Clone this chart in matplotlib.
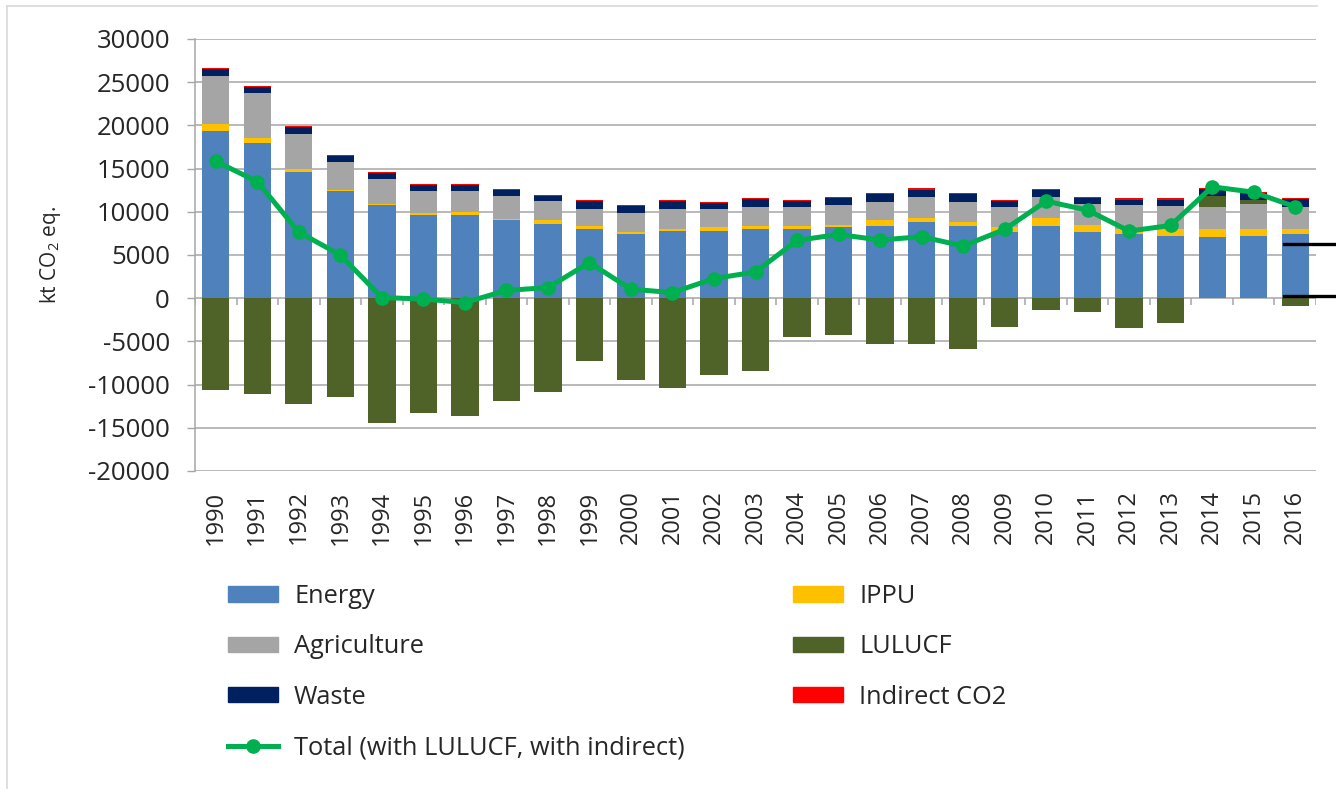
import numpy as np
import matplotlib
matplotlib.use("Agg")
import matplotlib.pyplot as plt
from matplotlib.lines import Line2D
from matplotlib.patches import Patch

years = [str(y) for y in range(1990, 2017)]
energy = [19400, 17950, 14580, 12420, 10800, 9620, 9620, 9000, 8620, 8040, 7380, 7810, 7810, 8040,
          8000, 8190, 8380, 8810, 8350, 7620, 8380, 7620, 7380, 7230, 7040, 7230, 7420]
ippu = [800, 550, 380, 150, 150, 230, 380, 150, 380, 310, 240, 190, 380, 310,
        310, 230, 660, 500, 460, 610, 930, 800, 580, 810, 960, 770, 580]
agriculture = [5500, 5200, 4000, 3200, 2850, 2570, 2420, 2650, 2200, 2030, 2190, 2380, 2190, 2230,
               2270, 2390, 2110, 2380, 2340, 2350, 2380, 2540, 2850, 2610, 2580, 2850, 2580]
lulucf = [-10620, -11080, -12230, -11460, -14460, -13270, -13650, -11850, -10880, -7270, -9460, -10420, -8880, -8420,
          -4540, -4310, -5310, -5310, -5920, -3310, -1310, -1540, -3500, -2880, 1230, 570, -920]
waste = [800, 700, 850, 650, 650, 700, 700, 700, 650, 890, 840, 880, 660, 880,
         650, 810, 890, 890, 890, 690, 810, 620, 610, 770, 880, 730, 880]
indirect = [200, 150, 150, 120, 120, 120, 120, 120, 110, 110, 120, 120, 150, 110,
            150, 110, 150, 150, 150, 110, 150, 150, 150, 150, 100, 100, 160]
total = [15840, 13500, 7650, 5000, 80, -100, -500, 900, 1230, 4120, 1040, 650, 2270, 3040,
         6690, 7380, 6730, 7120, 6040, 7960, 11230, 10190, 7770, 8420, 12890, 12270, 10580]

yticks = list(range(-20000, 30001, 5000))

C_ENERGY = "#4F81BD"
C_IPPU = "#FFC000"
C_AGRI = "#A5A5A5"
C_LULUCF = "#4F6228"
C_WASTE = "#002060"
C_IND = "#FF0000"
C_TOTAL = "#00B050"
GRID = "#A6A6A6"
TXT = "#262626"

plt.rcParams['font.family'] = ['Open Sans', 'DejaVu Sans']
plt.rcParams['mathtext.default'] = 'regular'

fig = plt.figure(figsize=(13.36, 7.89), dpi=100)
ax = fig.add_axes([195/1336, 1-471/789, (1316-195)/1336, (471-39)/789])

x = np.arange(len(years))
w = 0.66
e = np.array(energy, float)
ip = np.array(ippu, float)
ag = np.array(agriculture, float)
lu = np.array(lulucf, float)
wa = np.array(waste, float)
ind = np.array(indirect, float)
lu_pos = np.clip(lu, 0, None)
lu_neg = np.clip(lu, None, 0)

b = np.zeros(len(x))
ax.bar(x, e, w, bottom=b, color=C_ENERGY, zorder=2); b = b + e
ax.bar(x, ip, w, bottom=b, color=C_IPPU, zorder=2); b = b + ip
ax.bar(x, ag, w, bottom=b, color=C_AGRI, zorder=2); b = b + ag
ax.bar(x, lu_pos, w, bottom=b, color=C_LULUCF, zorder=2); b = b + lu_pos
ax.bar(x, wa, w, bottom=b, color=C_WASTE, zorder=2); b = b + wa
ax.bar(x, ind, w, bottom=b, color=C_IND, zorder=2)
ax.bar(x, lu_neg, w, bottom=0, color=C_LULUCF, zorder=2)

ax.plot(x, total, color=C_TOTAL, lw=3.6, marker='o', ms=9.5, zorder=4)

ax.set_xlim(-0.5, len(x) - 0.5)
ax.set_ylim(-20000, 30000)
ax.set_yticks(yticks)
ax.set_yticklabels([str(v) for v in yticks], fontsize=18.5, color=TXT)
ax.set_xticks(x)
ax.set_xticklabels(years, rotation=90, fontsize=17, color=TXT)
ax.tick_params(axis='x', length=0, pad=14)
ax.tick_params(axis='y', length=6, width=1.0, color=GRID, pad=12, direction='out')

ax.yaxis.grid(True, color=GRID, lw=1.1, zorder=0)
ax.set_axisbelow(True)
for s in ['top', 'right']:
    ax.spines[s].set_visible(False)
ax.spines['bottom'].set_visible(False)
ax.spines['left'].set_color(GRID)
ax.spines['left'].set_linewidth(1.1)

# category boundary tick marks on the zero line
ax.vlines(np.arange(len(x) + 1) - 0.5, 0, -750, color=GRID, lw=1.1, zorder=3)

ax.set_ylabel("kt CO$_2$ eq.", fontsize=15, color=TXT)
ax.yaxis.set_label_coords(-0.118, 0.5)

# Legends
fs = 18.3
h1 = [Patch(color=C_ENERGY), Patch(color=C_AGRI), Patch(color=C_WASTE),
      Line2D([], [], color=C_TOTAL, lw=3.6, marker='o', ms=9.5)]
l1 = ["Energy", "Agriculture", "Waste", "Total (with LULUCF, with indirect)"]
h2 = [Patch(color=C_IPPU), Patch(color=C_LULUCF), Patch(color=C_IND)]
l2 = ["IPPU", "LULUCF", "Indirect CO2"]
kw = dict(frameon=False, fontsize=fs, handlelength=1.95, handleheight=0.55,
          handletextpad=0.65, labelspacing=1.0, borderpad=0, borderaxespad=0,
          loc='upper left')
leg1 = fig.legend(h1, l1, bbox_to_anchor=(228/1336, 1-584/789), **kw)
leg2 = fig.legend(h2, l2, bbox_to_anchor=(793/1336, 1-584/789), **kw)
for lg in (leg1, leg2):
    for t in lg.get_texts():
        t.set_color(TXT)

# chart border fragments and edge artifacts
fig.add_artist(Line2D([7/1336, 1317/1336], [1-6/789, 1-6/789], color="#D9D9D9", lw=1.2))
fig.add_artist(Line2D([7/1336, 7/1336], [1-6/789, 0], color="#D9D9D9", lw=1.2))
fig.add_artist(Line2D([1284/1336, 1.0], [1-244/789, 1-244/789], color="black", lw=2.4))
fig.add_artist(Line2D([1284/1336, 1.0], [1-296/789, 1-296/789], color="black", lw=2.4))

fig.savefig("out.png", dpi=100)
